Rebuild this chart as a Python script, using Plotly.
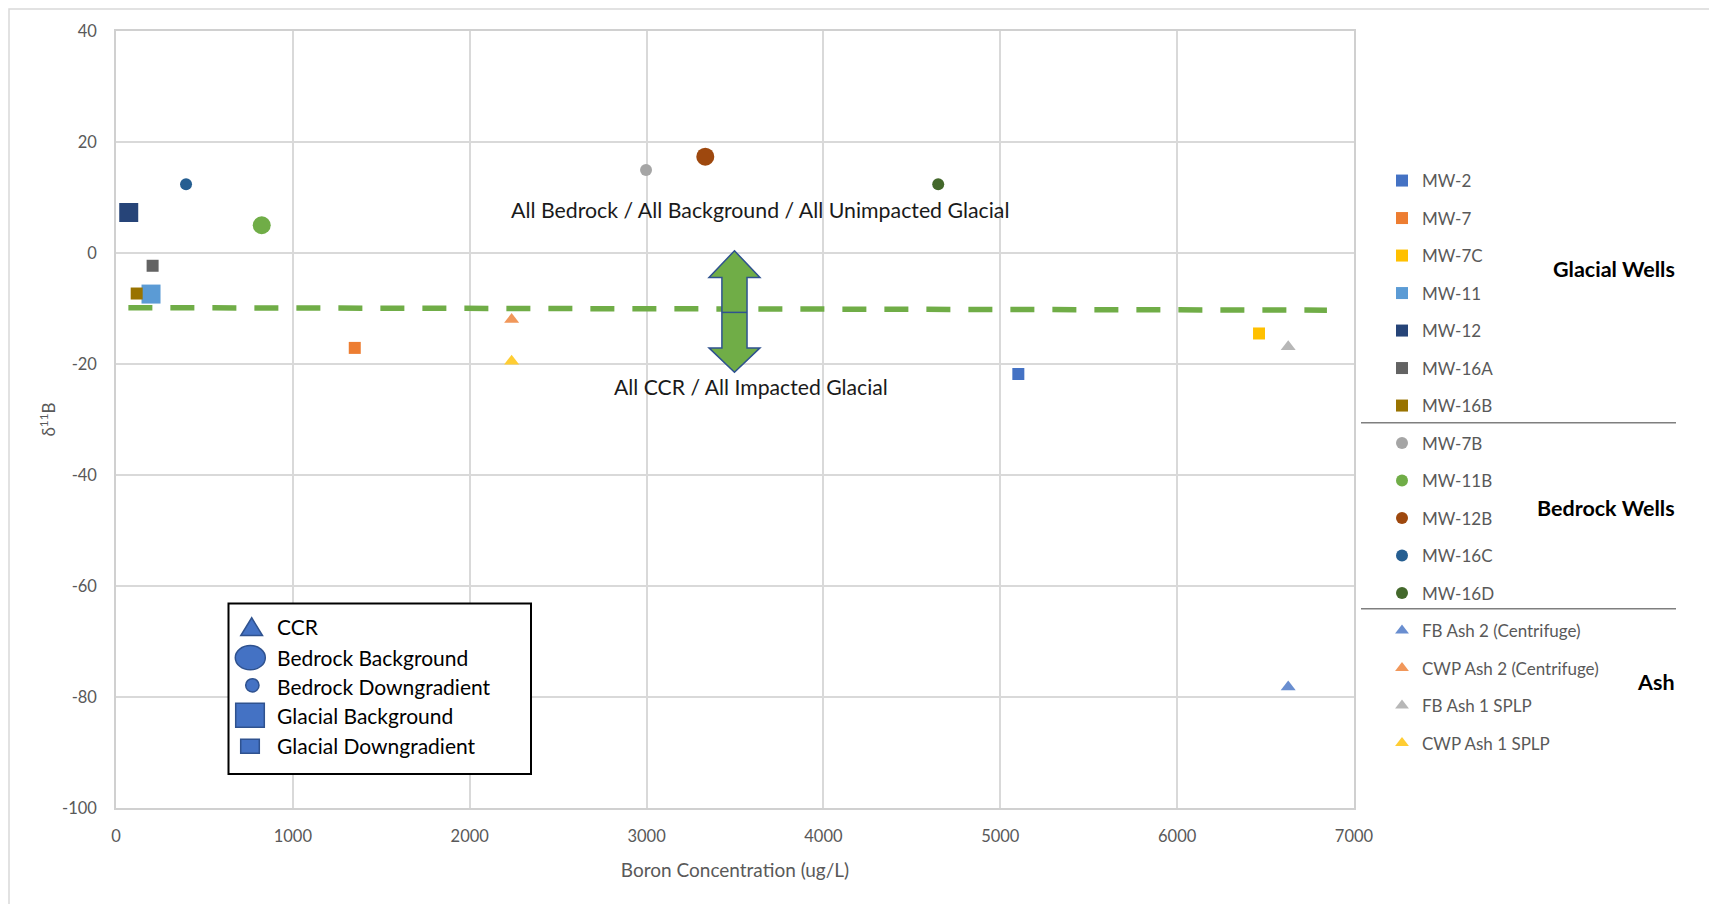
import plotly.graph_objects as go

# ---------------- data ----------------
glacial_wells = ["MW-2", "MW-7", "MW-7C", "MW-11", "MW-12", "MW-16A", "MW-16B"]
glacial_boron = [5102, 1350, 6463, 198, 72, 207, 117]
glacial_d11b = [-21.8, -17.1, -14.5, -7.4, 7.3, -2.3, -7.3]
glacial_background = [False, False, False, True, True, False, False]
glacial_colors = ["#4472C4", "#ED7D31", "#FFC000", "#5B9BD5", "#264478", "#636363", "#997300"]

bedrock_wells = ["MW-7B", "MW-11B", "MW-12B", "MW-16C", "MW-16D"]
bedrock_boron = [2997, 824, 3332, 396, 4649]
bedrock_d11b = [14.95, 5.0, 17.35, 12.4, 12.4]
bedrock_background = [False, True, True, False, False]
bedrock_colors = ["#A5A5A5", "#70AD47", "#9E480E", "#255E91", "#43682B"]

ash_samples = ["FB Ash 2 (Centrifuge)", "CWP Ash 2 (Centrifuge)", "FB Ash 1 SPLP", "CWP Ash 1 SPLP"]
ash_boron = [6628, 2237, 6628, 2237]
ash_d11b = [-78.2, -12.0, -16.9, -19.5]
ash_colors = ["#698ED0", "#F1975A", "#B7B7B7", "#FFCD33"]

threshold_boron = [70, 6847]
threshold_d11b = [-9.85, -10.3]

x_ticks = [0, 1000, 2000, 3000, 4000, 5000, 6000, 7000]
y_ticks = [-100, -80, -60, -40, -20, 0, 20, 40]
y_tick_labels = ["-100", "-80", "-60", "-40", "-20", "0", "20", "40"]

# double arrow (decoration) in data units
arrow_x = 3497
arrow_head_half = 144
arrow_shaft_half = 71
arrow_top, arrow_top_base, arrow_mid, arrow_bot_base, arrow_bot = 0.4, -4.4, -10.7, -17.1, -21.5

# ---------------- geometry ----------------
# page has an 8px body margin, so the figure is drawn 8px smaller and offset
OFF = 8
W, H = 1717 - OFF, 904 - OFF
L, R, T, B = 116, 1354, 31, 808          # plot area in page pixels
PW, PH = R - L, B - T


def px(x):
    return (x - L) / PW


def py(y):
    return (B - y) / PH


FONT = "Lato"
GRAY = "#595959"

fig = go.Figure()

# threshold dashed line
fig.add_trace(go.Scatter(x=threshold_boron, y=threshold_d11b, mode="lines",
                         line=dict(color="#70AD47", width=5.5, dash="24px,18px"),
                         showlegend=False, hoverinfo="skip"))

for i, name in enumerate(glacial_wells):
    fig.add_trace(go.Scatter(
        x=[glacial_boron[i]], y=[glacial_d11b[i]], mode="markers", name=name,
        legendgroup=name,
        marker=dict(symbol="square", color=glacial_colors[i],
                    size=19 if glacial_background[i] else 12, line=dict(width=0))))

for i, name in enumerate(bedrock_wells):
    fig.add_trace(go.Scatter(
        x=[bedrock_boron[i]], y=[bedrock_d11b[i]], mode="markers", name=name,
        legendgroup=name,
        marker=dict(symbol="circle", color=bedrock_colors[i],
                    size=18 if bedrock_background[i] else 12, line=dict(width=0))))

for i, name in enumerate(ash_samples):
    fig.add_trace(go.Scatter(
        x=[ash_boron[i]], y=[ash_d11b[i]], mode="markers", name=name,
        legendgroup=name,
        marker=dict(symbol="triangle-up", color=ash_colors[i], size=13, line=dict(width=0))))

shapes = []
# outer chart border
shapes.append(dict(type="rect", xref="paper", yref="paper",
                   x0=px(9), x1=px(1716), y0=py(9), y1=py(930),
                   line=dict(color="#D9D9D9", width=1.5), layer="below"))

# double arrow
ax0 = arrow_x
path = (f"M{ax0},{arrow_top} L{ax0 + arrow_head_half},{arrow_top_base} "
        f"L{ax0 + arrow_shaft_half},{arrow_top_base} L{ax0 + arrow_shaft_half},{arrow_bot_base} "
        f"L{ax0 + arrow_head_half},{arrow_bot_base} L{ax0},{arrow_bot} "
        f"L{ax0 - arrow_head_half},{arrow_bot_base} L{ax0 - arrow_shaft_half},{arrow_bot_base} "
        f"L{ax0 - arrow_shaft_half},{arrow_top_base} L{ax0 - arrow_head_half},{arrow_top_base} Z")
shapes.append(dict(type="path", xref="x", yref="y", path=path,
                   fillcolor="#70AD47", line=dict(color="#2F528F", width=1.5)))
shapes.append(dict(type="line", xref="x", yref="y",
                   x0=ax0 - arrow_shaft_half, x1=ax0 + arrow_shaft_half, y0=arrow_mid, y1=arrow_mid,
                   line=dict(color="#2F528F", width=1.5)))

# separators in right legend
for yy in (422.7, 608.8):
    shapes.append(dict(type="line", xref="paper", yref="paper",
                       x0=px(1361), x1=px(1676), y0=py(yy), y1=py(yy),
                       line=dict(color="#7F7F7F", width=1.5)))

# inset key box
KFILL, KLINE = "#4472C4", "#2F528F"
shapes.append(dict(type="rect", xref="paper", yref="paper",
                   x0=px(228.5), x1=px(531), y0=py(603.5), y1=py(774),
                   fillcolor="white", line=dict(color="black", width=2)))
tri = f"M{px(240.8)},{py(635.5)} L{px(262.5)},{py(635.5)} L{px(251.7)},{py(617.8)} Z"
shapes.append(dict(type="path", xref="paper", yref="paper", path=tri,
                   fillcolor=KFILL, line=dict(color=KLINE, width=1.5)))
shapes.append(dict(type="circle", xref="paper", yref="paper",
                   x0=px(235.3), x1=px(265.3), y0=py(669.8), y1=py(645.5),
                   fillcolor=KFILL, line=dict(color=KLINE, width=1.5)))
shapes.append(dict(type="circle", xref="paper", yref="paper",
                   x0=px(245.7), x1=px(259), y0=py(692), y1=py(678.7),
                   fillcolor=KFILL, line=dict(color=KLINE, width=1.5)))
shapes.append(dict(type="rect", xref="paper", yref="paper",
                   x0=px(235.7), x1=px(264.3), y0=py(727.3), y1=py(703.3),
                   fillcolor=KFILL, line=dict(color=KLINE, width=1.5)))
shapes.append(dict(type="rect", xref="paper", yref="paper",
                   x0=px(240.7), x1=px(259.3), y0=py(753.3), y1=py(739.3),
                   fillcolor=KFILL, line=dict(color=KLINE, width=1.5)))

annotations = []
key_labels = ["CCR", "Bedrock Background", "Bedrock Downgradient", "Glacial Background", "Glacial Downgradient"]
key_y = [626, 657, 686, 715, 745]
for lab, yy in zip(key_labels, key_y):
    annotations.append(dict(text=lab, xref="paper", yref="paper", x=px(275), y=py(yy),
                            xanchor="left", yanchor="middle", showarrow=False,
                            font=dict(family=FONT, size=21, color="black")))

annotations.append(dict(text="All Bedrock / All Background / All Unimpacted Glacial",
                        xref="x", yref="y", x=3641, y=7.8, showarrow=False,
                        xanchor="center", yanchor="middle",
                        font=dict(family=FONT, size=21.3, color="#1a1a1a")))
annotations.append(dict(text="All CCR / All Impacted Glacial",
                        xref="x", yref="y", x=3590, y=-24.2, showarrow=False,
                        xanchor="center", yanchor="middle",
                        font=dict(family=FONT, size=21.2, color="#1a1a1a")))

for lab, yy in (("Glacial Wells", 269), ("Bedrock Wells", 508), ("Ash", 682)):
    annotations.append(dict(text=f"<b>{lab}</b>", xref="paper", yref="paper",
                            x=px(1677), y=py(yy), xanchor="right", yanchor="middle",
                            showarrow=False, font=dict(family=FONT, size=21.5, color="black")))

axis_common = dict(showgrid=True, gridcolor="#D9D9D9", gridwidth=1.5, zeroline=False,
                   showline=True, linecolor="#D0D0D0", linewidth=1.5, mirror=True,
                   ticks="", tickfont=dict(family=FONT, size=16.5, color=GRAY))

fig.update_layout(
    width=W, height=H, autosize=False,
    margin=dict(l=L - OFF, r=W - (R - OFF), t=T - OFF, b=H - (B - OFF), pad=0),
    paper_bgcolor="white", plot_bgcolor="white",
    font=dict(family=FONT, color=GRAY),
    xaxis=dict(range=[0, 7000], tickvals=x_ticks, ticklabelstandoff=12,
               title=dict(text="Boron Concentration (ug/L)", standoff=19,
                          font=dict(family=FONT, size=19, color=GRAY)),
               **axis_common),
    yaxis=dict(range=[-100, 40], tickvals=y_ticks, ticktext=y_tick_labels,
               ticklabelstandoff=14,
               title=dict(text="δ<sup>11</sup>B", standoff=2,
                          font=dict(family=FONT, size=17, color=GRAY)),
               **axis_common),
    legend=dict(x=px(1382), xanchor="left", y=py(163), yanchor="top",
                traceorder="grouped", tracegroupgap=12.4, itemsizing="constant",
                font=dict(family=FONT, size=17, color=GRAY),
                bgcolor="rgba(0,0,0,0)", borderwidth=0),
    shapes=shapes, annotations=annotations,
)

fig.write_html("out.html")
